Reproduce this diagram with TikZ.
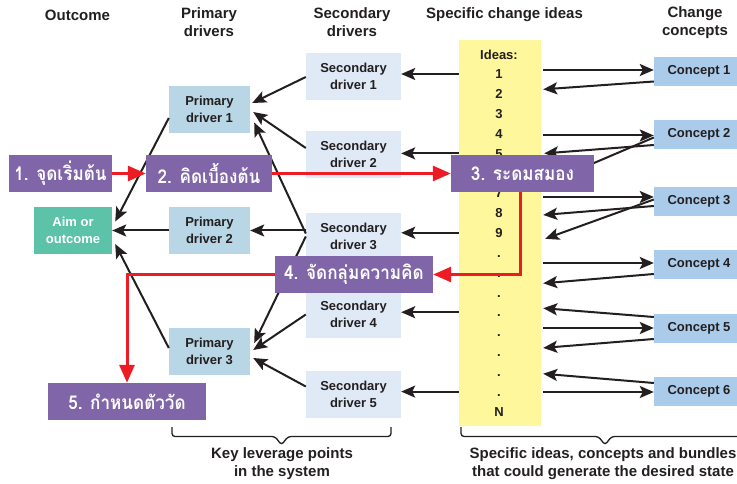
\documentclass[tikz,border=0pt]{standalone}
\usepackage{fontspec}
\setmainfont{Liberation Sans}
\newfontfamily\thaifont[Script=Thai,FakeStretch=0.9]{Loma}
\usetikzlibrary{arrows.meta,calc}

\definecolor{pdblue}{RGB}{184,214,230}
\definecolor{sdblue}{RGB}{224,234,246}
\definecolor{cpblue}{RGB}{170,204,234}
\definecolor{aimgreen}{RGB}{92,194,168}
\definecolor{stepviolet}{RGB}{128,101,168}
\definecolor{ideayellow}{RGB}{255,247,155}
\definecolor{flowred}{RGB}{237,28,36}
\definecolor{ink}{RGB}{35,31,32}

\tikzset{
  boxtxt/.style={font=\bfseries\fontsize{13}{16.5}\selectfont, align=center, inner sep=0pt},
  pbox/.style={boxtxt, fill=pdblue, text=ink, minimum width=81pt, minimum height=47pt},
  sbox/.style={boxtxt, fill=sdblue, text=ink, minimum width=95pt, minimum height=47pt},
  cbox/.style={boxtxt, fill=cpblue, text=ink, minimum width=90pt, minimum height=29pt},
  stepbox/.style={fill=stepviolet, text=white, inner sep=0pt, minimum height=37pt,
    font=\thaifont\bfseries\fontsize{19}{21}\selectfont},
  head/.style={font=\bfseries\fontsize{15}{18}\selectfont, align=center, text=ink},
  arr/.style={draw=ink, line width=2pt, -{Stealth[length=14pt,width=12pt,inset=3pt]}},
  redarr/.style={draw=flowred, line width=3pt, -{Triangle[length=18pt,width=15pt]}},
}

\begin{document}
\begin{tikzpicture}[x=1pt, y=-1pt]
  \useasboundingbox (0,0) rectangle (737,484);

  % ---------- column titles ----------
  \node[head] (hout) at (77.5,15)   {Outcome};
  \node[head] (hpd)  at (209,22.5)  {Primary\\drivers};
  \node[head] (hsd)  at (352,22.5)  {Secondary\\drivers};
  \node[head] (hid)  at (504.5,15)  {Specific change ideas};
  \node[head] (hcc)  at (695,22.5)  {Change\\concepts};

  % ---------- ideas column ----------
  \node[fill=ideayellow, minimum width=82pt, minimum height=386pt, inner sep=0pt]
    (ideas) at (500,233) {};
  \node[boxtxt, text=ink] (ihead) at (499,55) {Ideas:};
  % item 6 stays blank, step 3 sits over it
  \foreach \t [count=\k] in {1,2,3,4,5,{},7,8,9,.,.,.,.,.,.,.,.,N}
    \node[boxtxt, text=ink, text height=9.5pt, text depth=0pt] (i\k)
      at (499,{74+(\k-1)*19.85}) {\t};

  % ---------- outcome, primary and secondary drivers ----------
  \node[boxtxt, fill=aimgreen, text=white, minimum width=78pt, minimum height=47pt]
    (aim) at (73,230.5) {Aim or\\outcome};
  \node[pbox] (pd1) at (209.5,109.5) {Primary\\driver 1};
  \node[pbox] (pd2) at (209.5,230.5) {Primary\\driver 2};
  \node[pbox] (pd3) at (209.5,351.5) {Primary\\driver 3};
  \foreach \y [count=\k] in {76.5,154.5,236.5,314.5,394.5}
    \node[sbox] (sd\k) at (353.5,\y) {Secondary\\driver \k};

  % ---------- change concepts ----------
  \foreach \y [count=\k] in {71.5,134.5,201.5,264.5,328.5,391}
    \node[cbox] (c\k) at (699,\y) {Concept \k};

  % ===== ideas -> secondary drivers =====
  \foreach \k/\s in {1/1,5/2,9/3,13/4,17/5}
    \draw[arr] (ideas.west |- i\k) -- (sd\s.east |- i\k);

  % ===== secondary -> primary drivers =====
  \draw[arr] ($(sd1.west)+(0,0.5)$) -- ($(pd1.east)+(2,-6.5)$);
  \draw[arr] ($(sd2.west)+(0,-6.5)$) -- ($(pd1.east)+(3,2.5)$);
  \draw[arr] ($(sd3.west)+(0,-3)$) -- ($(pd1.east)+(4,13)$);
  \draw[arr] (sd3.west |- pd2) -- (pd2.east);
  \draw[arr] (sd3.west) -- ($(pd3.east)+(4,-8.5)$);
  \draw[arr] (sd4.west) -- ($(pd3.east)+(3,-1.5)$);
  \draw[arr] ($(sd5.west)+(0,-8)$) -- ($(pd3.east)+(3,6.5)$);

  % ===== primary drivers -> aim =====
  \draw[arr] ($(pd1.west)+(0,8.5)$) -- ($(aim.east)+(3,-9)$);
  \draw[arr] (pd2.west) -- (aim.east);
  \draw[arr] ($(pd3.west)+(0,-3.5)$) -- ($(aim.east)+(3,13.5)$);

  % ===== ideas <-> concepts =====
  % concept 1
  \draw[arr] ($(ideas.east |- c1)+(2,-1.5)$) -- ($(c1.west)+(0,-1.5)$);
  \draw[arr] ($(c1.west)+(0,10)$) -- ($(ideas.east |- i2)+(2,-4.5)$);
  % concept 2
  \draw[arr] ($(ideas.east |- c2)+(2,1)$) -- ($(c2.west)+(0,1)$);
  \draw[arr] ($(c2.west)+(0,10.5)$) -- ($(ideas.east |- i5)+(3,0)$);
  \draw[arr] ($(c2.west)+(0,3)$) -- ($(ideas.east |- i6)+(3,11)$);
  % concept 3
  \draw[arr] ($(ideas.east |- c3)+(2,-4.5)$) -- ($(c3.west)+(0,-4.5)$);
  \draw[arr] ($(c3.west)+(0,4.5)$) -- ($(ideas.east |- i8)+(2,2)$);
  \draw[arr] ($(c3.west)+(0,-2)$) -- ($(ideas.east |- i9)+(4,6)$);
  % concept 4
  \draw[arr] ($(ideas.east |- c4)+(2,-1.5)$) -- ($(c4.west)+(0,-1.5)$);
  \draw[arr] ($(c4.west)+(0,9.5)$) -- ($(ideas.east |- i11)+(2,10.8)$);
  % concept 5
  \draw[arr] ($(c5.west)+(0,-11.5)$) -- ($(ideas.east |- i13)+(2,-4)$);
  \draw[arr] ($(ideas.east |- c5)+(2,-0.5)$) -- ($(c5.west)+(0,-0.5)$);
  \draw[arr] ($(c5.west)+(0,10.5)$) -- ($(ideas.east |- i15)+(2,-4)$);
  % concept 6
  \draw[arr] ($(c6.west)+(0,-8)$) -- ($(ideas.east |- i16)+(2,2)$);
  \draw[arr] ($(ideas.east |- c6)+(2,1)$) -- ($(c6.west)+(0,1)$);

  % ---------- brackets and captions ----------
  \draw[ink, line width=1.3pt, rounded corners=3pt]
    (172,427) -- (172,436.5) -- (275,436.5) -- (281.5,445) -- (288,436.5)
    -- (391,436.5) -- (391,427);
  \draw[ink, line width=1.3pt, rounded corners=3pt]
    (461,427) -- (461,436.5) -- (598.5,436.5) -- (605,445) -- (611.5,436.5)
    -- (749,436.5) -- (749,427);
  \node[head] (klp) at (282,464) {Key leverage points\\in the system};
  \node[head] (sic) at (603,464) {Specific ideas, concepts and bundles\\that could generate the desired state};

  % ---------- the five steps ----------
  \node[stepbox, minimum width=103pt] (s1) at (60.5,173.5)  {1. จุดเริ่มต้น};
  \node[stepbox, minimum width=126pt] (s2) at (209,173.5)   {2. คิดเบื้องต้น};
  \node[stepbox, minimum width=143pt] (s3) at (522.5,173.5) {3. ระดมสมอง};
  \node[stepbox, minimum width=158pt] (s4) at (354,274.5)   {4. จัดกลุ่มความคิด};
  \node[stepbox, minimum width=158pt] (s5) at (127,401.5)   {5. กำหนดตัววัด};

  \draw[redarr] (s1.east) -- (s2.west);
  \draw[redarr] (s2.east) -- (s3.west);
  \draw[redarr] ($(s3.south)+(-2.5,0)$) |- (s4.east);
  \draw[redarr] (s4.west) -| (s5.north);
\end{tikzpicture}
\end{document}
